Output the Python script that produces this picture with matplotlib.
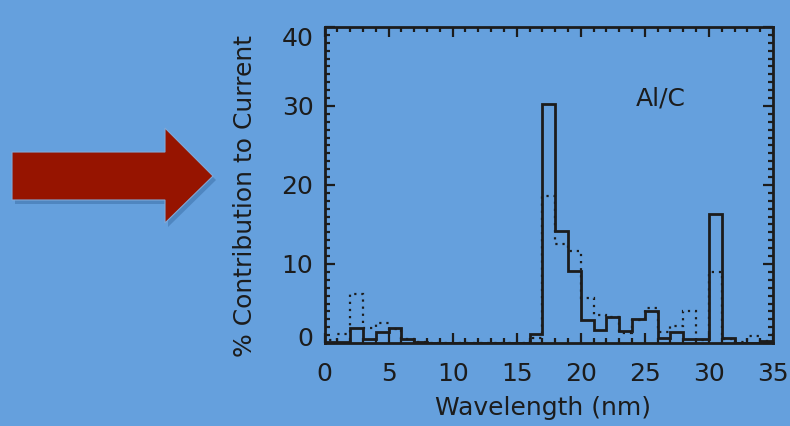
import numpy as np
import matplotlib
matplotlib.use("Agg")
import matplotlib.pyplot as plt
import matplotlib.transforms as mtransforms
from matplotlib.patches import Polygon

# ---- data ----
bin_edges = list(range(0, 36))  # wavelength bins (nm)
solid_vals = [0.1, 0.1, 1.9, 0.5, 1.4, 1.9, 0.45, 0.1, 0, 0, 0, 0, 0, 0, 0, 0,
              1.1, 30.3, 14.2, 9.15, 2.9, 1.6, 3.25, 1.5, 3.0, 4.1, 0.6, 1.35,
              0.45, 0.45, 16.3, 0.65, 0.05, 0.0, 0.3]
dotted_vals = [0.4, 1.2, 6.15, 1.85, 2.5, 1.8, 0.5, 0.1, 0, 0, 0, 0, 0, 0, 0, 0,
               0.6, 18.6, 12.5, 11.6, 5.7, 3.6, 3.25, 1.3, 2.9, 4.4, 1.35, 2.2,
               4.05, 0.4, 8.95, 0.5, 0.1, 0.85, 0.3]
x_ticks = [0, 5, 10, 15, 20, 25, 30, 35]
y_ticks = [0, 10, 20, 30, 40]
annotation = "Al/C"
xlabel = "Wavelength (nm)"
ylabel = "% Contribution to Current"

BG = "#65A0DD"
INK = "#1c1c1c"
W, H = 790, 426

plt.rcParams['font.family'] = ['DejaVu Sans']
fig = plt.figure(figsize=(W / 100, H / 100), dpi=100, facecolor=BG)

# overlay for arrow (pixel coordinates)
ov = fig.add_axes([0, 0, 1, 1], facecolor="none")
ov.set_xlim(0, W)
ov.set_ylim(H, 0)
ov.axis("off")
arrow = [(12, 152), (165, 152), (165, 128), (213, 176), (165, 223), (165, 200), (12, 200)]
shadow = [(x + 3, y + 4) for x, y in arrow]
ov.add_patch(Polygon(shadow, closed=True, facecolor="#2f5f95", alpha=0.4, edgecolor="none"))
ov.add_patch(Polygon(arrow, closed=True, facecolor="#961400", edgecolor="#7fa9d8", lw=0.8))

# main axes
left, right, top, bottom = 324.5, 773, 27, 343
ax = fig.add_axes([left / W, 1 - bottom / H, (right - left) / W, (bottom - top) / H])
ax.set_facecolor("none")
ax.stairs(dotted_vals, bin_edges, color=INK, lw=1.6, linestyle=(0, (1, 2.2)))
ax.stairs(solid_vals, bin_edges, color=INK, lw=2.0)
ax.set_xlim(0, 35)
ax.set_ylim(0, 40)
for s in ax.spines.values():
    s.set_color(INK)
    s.set_linewidth(2.0)

ax.set_xticks(x_ticks)
ax.set_yticks(y_ticks)
ax.set_xticks(np.arange(0, 36, 1), minor=True)
ax.set_yticks(np.arange(0, 41, 1), minor=True)
ax.tick_params(which="both", direction="in", top=True, right=True, color=INK, width=1.6)
ax.tick_params(which="major", length=7)
ax.tick_params(which="minor", length=3.5)
ax.tick_params(axis="x", which="major", pad=14, labelsize=18, labelcolor=INK)
ax.tick_params(axis="y", which="major", pad=8, labelsize=18, labelcolor=INK)

ax.text(26.25, 31.0, annotation, ha="center", va="center", fontsize=18, color=INK)

fig.text(543 / W, 1 - 408 / H, xlabel, ha="center", va="center", fontsize=18, color=INK)
fig.text(245 / W, 1 - 196 / H, ylabel, ha="center", va="center", rotation=90, fontsize=18, color=INK)

# IDL-style clamping of the end labels inside the axis range
fig.canvas.draw()
ylbls = ax.get_yticklabels()
ylbls[0].set_transform(ylbls[0].get_transform() + mtransforms.ScaledTranslation(0, 7 / 100, fig.dpi_scale_trans))
ylbls[-1].set_transform(ylbls[-1].get_transform() + mtransforms.ScaledTranslation(0, -10 / 100, fig.dpi_scale_trans))

fig.savefig("out.png", dpi=100, facecolor=BG)
